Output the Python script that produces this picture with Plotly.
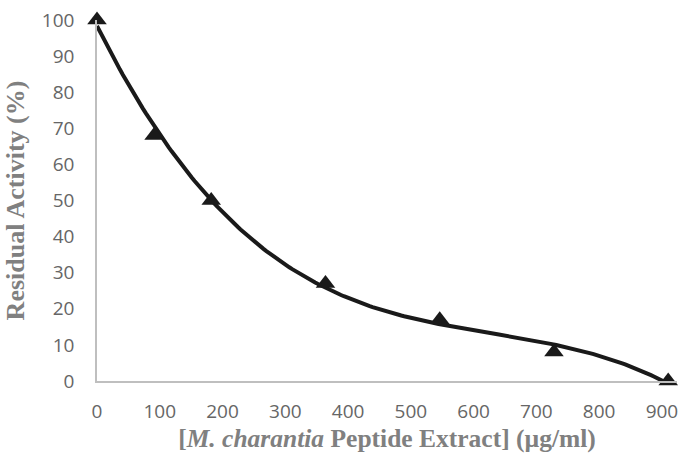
import numpy as np
import plotly.graph_objects as go

concentration = [0, 91, 182, 364, 546, 728, 910]
residual_activity = [100, 68, 50, 27, 17, 8, 0]
x_ticks = [0, 100, 200, 300, 400, 500, 600, 700, 800, 900]
y_ticks = [0, 10, 20, 30, 40, 50, 60, 70, 80, 90, 100]

# polynomial trendline (order 3) fitted to the data
coef = np.polyfit(concentration, residual_activity, 3)
xf = np.linspace(min(concentration), max(concentration), 200)
yf = np.polyval(coef, xf)

fig = go.Figure()
fig.add_trace(go.Scatter(x=xf, y=yf, mode="lines",
                         line=dict(color="#1a1a1a", width=4),
                         hoverinfo="skip", showlegend=False, cliponaxis=False))
fig.add_trace(go.Scatter(x=concentration, y=residual_activity, mode="markers",
                         marker=dict(symbol="triangle-up", size=17, color="#1a1a1a"),
                         showlegend=False, cliponaxis=False))

tickfont = dict(family="Open Sans, Liberation Sans, sans-serif", size=19, color="#666666")
xtitlefont = dict(family="Liberation Serif, Times New Roman, serif", size=25.5, color="#808080")
ytitlefont = dict(family="Liberation Serif, Times New Roman, serif", size=26, color="#808080")

fig.update_layout(
    width=680, height=460,
    margin=dict(l=97, r=3, t=20, b=79, autoexpand=False),
    paper_bgcolor="white", plot_bgcolor="white",
    xaxis=dict(range=[0, 924], tickvals=x_ticks, showgrid=False, zeroline=False,
               showline=True, linecolor="#bfbfbf", linewidth=1.5,
               ticks="", tickfont=tickfont, ticklabelstandoff=12,
               ticklabeloverflow="allow", automargin=False,
               title=dict(text="<b>[<i>M. charantia</i> Peptide Extract] (µg/ml)</b>",
                          font=xtitlefont, standoff=6)),
    yaxis=dict(range=[0, 100], tickvals=y_ticks, showgrid=False, zeroline=False,
               showline=True, linecolor="#bfbfbf", linewidth=1.5,
               ticks="", tickfont=tickfont, ticklabelstandoff=17, automargin=False,
               title=dict(text="<b>Residual Activity (%)</b>", font=ytitlefont, standoff=10)),
)

fig.write_html("out.html", config={"displayModeBar": False},
               post_script="document.body.style.margin='0';")
